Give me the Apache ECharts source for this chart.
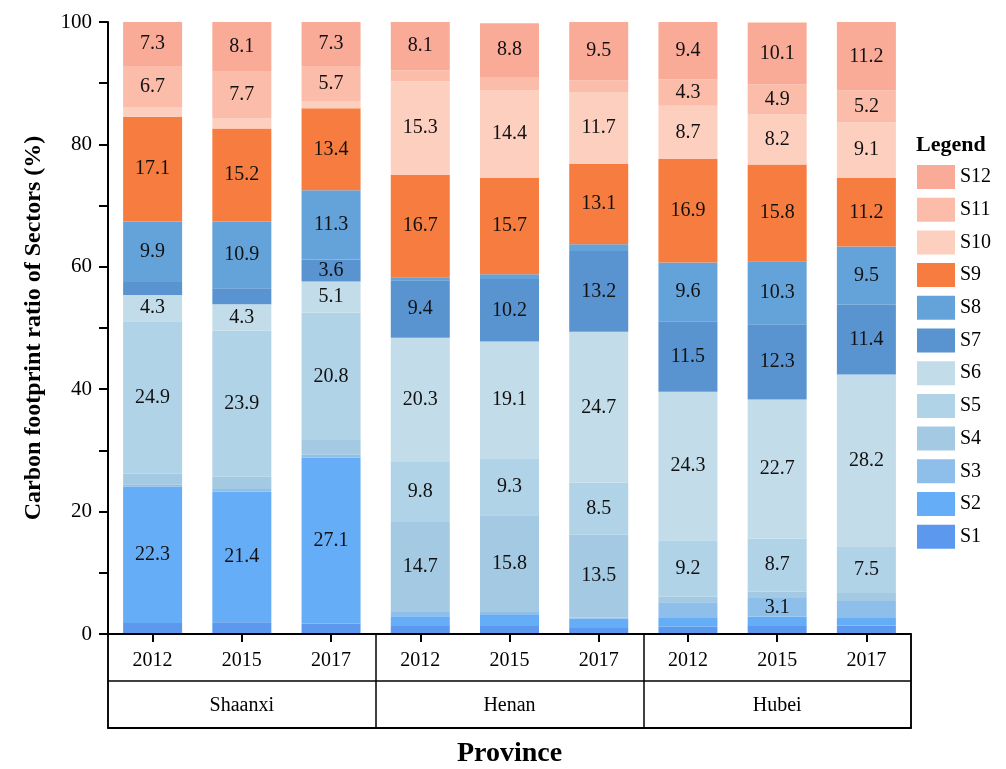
<!DOCTYPE html>
<html>
<head>
<meta charset="utf-8">
<script src="https://cdn.jsdelivr.net/npm/echarts@6/dist/echarts.min.js"></script>
<style>
  html, body { margin: 0; padding: 0; background: #fff; }
  #chart { width: 1006px; height: 769px; }
</style>
</head>
<body>
<div id="chart"></div>
<script>
const provinces = ['Shaanxi', 'Henan', 'Hubei'];
const years = ['2012', '2015', '2017'];
const categories = [];
provinces.forEach(p => years.forEach(y => categories.push(p + ' ' + y)));

const sectors = ['S1', 'S2', 'S3', 'S4', 'S5', 'S6', 'S7', 'S8', 'S9', 'S10', 'S11', 'S12'];
const sectorColors = ['#5b98ee', '#66adf7', '#8ebfea', '#a4c9e2', '#b0d3e8', '#c2dde9',
                      '#5994d0', '#64a3d9', '#f77c3f', '#fdcfbf', '#fbbcaa', '#f9ab98'];

// one array per sector, 9 bars: Shaanxi 12/15/17, Henan 12/15/17, Hubei 12/15/17
const S1  = [1.8, 1.9, 1.7, 1.3, 1.3, 1.0, 1.2, 1.3, 1.4];
const S2  = [22.3, 21.4, 27.1, 1.6, 1.8, 1.5, 1.4, 1.5, 1.2];
const S3  = [0.3, 0.4, 0.5, 0.7, 0.5, 0.2, 2.6, 3.1, 2.8];
const S4  = [1.8, 2.0, 2.4, 14.7, 15.8, 13.5, 0.9, 1.0, 1.3];
const S5  = [24.9, 23.9, 20.8, 9.8, 9.3, 8.5, 9.2, 8.7, 7.5];
const S6  = [4.3, 4.3, 5.1, 20.3, 19.1, 24.7, 24.3, 22.7, 28.2];
const S7  = [2.1, 2.6, 3.6, 9.4, 10.2, 13.2, 11.5, 12.3, 11.4];
const S8  = [9.9, 10.9, 11.3, 0.5, 0.8, 1.1, 9.6, 10.3, 9.5];
const S9  = [17.1, 15.2, 13.4, 16.7, 15.7, 13.1, 16.9, 15.8, 11.2];
const S10 = [1.6, 1.7, 1.2, 15.3, 14.4, 11.7, 8.7, 8.2, 9.1];
const S11 = [6.7, 7.7, 5.7, 1.8, 2.1, 2.0, 4.3, 4.9, 5.2];
const S12 = [7.3, 8.1, 7.3, 8.1, 8.8, 9.5, 9.4, 10.1, 11.2];
const sectorValues = [S1, S2, S3, S4, S5, S6, S7, S8, S9, S10, S11, S12];

const serif = '"Liberation Serif", "Times New Roman", serif';

const chart = echarts.init(document.getElementById('chart'));

const series = sectors.map((name, i) => ({
    name: name,
    type: 'bar',
    stack: 'total',
    barWidth: 59,
    xAxisIndex: 0,
    yAxisIndex: 0,
    itemStyle: { color: sectorColors[i] },
    label: {
        show: true,
        position: 'inside',
        fontFamily: serif,
        fontSize: 20,
        color: '#111',
        formatter: p => (p.value >= 3 ? p.value.toFixed(1) : '')
    },
    data: sectorValues[i]
}));

const option = {
    animation: false,
    backgroundColor: '#fff',
    title: {
        text: 'Legend',
        left: 911,
        top: 129,
        textStyle: { fontFamily: serif, fontSize: 22, fontWeight: 'bold', color: '#000' }
    },
    legend: {
        orient: 'vertical',
        left: 912,
        top: 160,
        itemWidth: 38,
        itemHeight: 24,
        itemGap: 8.7,
        icon: 'rect',
        data: sectors.slice().reverse(),
        textStyle: { fontFamily: serif, fontSize: 20, color: '#000' }
    },
    grid: [
        { left: 108, right: 95, top: 22, bottom: 135 },
        { left: 108, right: 95, top: 634, height: 94 }
    ],
    xAxis: [
        {
            type: 'category',
            gridIndex: 0,
            data: categories,
            position: 'bottom',
            z: 5,
            axisLine: { lineStyle: { color: '#000', width: 2 } },
            axisTick: { show: true, alignWithLabel: true, interval: 0, length: 8, lineStyle: { color: '#000', width: 2 } },
            axisLabel: {
                interval: 0,
                margin: 17,
                fontFamily: serif,
                fontSize: 20,
                color: '#000',
                formatter: v => v.split(' ')[1]
            }
        },
        {
            type: 'category',
            gridIndex: 1,
            data: provinces,
            position: 'bottom',
            name: 'Province',
            nameLocation: 'middle',
            nameGap: 12,
            nameTextStyle: { fontFamily: serif, fontSize: 28, fontWeight: 'bold', color: '#000' },
            axisLine: { lineStyle: { color: '#000', width: 2 } },
            axisTick: { show: false },
            splitLine: { show: true, interval: 0, lineStyle: { color: '#000', width: 1.5 } },
            axisLabel: {
                inside: true,
                margin: 12,
                fontFamily: serif,
                fontSize: 20,
                color: '#000'
            }
        }
    ],
    yAxis: [
        {
            type: 'value',
            gridIndex: 0,
            min: 0,
            max: 100,
            interval: 20,
            name: 'Carbon footprint ratio of Sectors (%)',
            nameLocation: 'middle',
            nameGap: 62,
            nameTextStyle: { fontFamily: serif, fontSize: 24, fontWeight: 'bold', color: '#000' },
            axisLine: { show: true, lineStyle: { color: '#000', width: 2 } },
            axisTick: { show: true, length: 9, lineStyle: { color: '#000', width: 2 } },
            minorTick: { show: true, splitNumber: 2, length: 9, lineStyle: { color: '#000', width: 2 } },
            splitLine: { show: false },
            axisLabel: { margin: 16, fontFamily: serif, fontSize: 21, color: '#000' }
        },
        {
            type: 'value',
            gridIndex: 1,
            min: 0,
            max: 2,
            interval: 1,
            axisLine: { show: true, lineStyle: { color: '#000', width: 1.5 } },
            axisTick: { show: false },
            axisLabel: { show: false },
            splitLine: { show: true, lineStyle: { color: '#000', width: 1.5 } }
        },
        {
            type: 'value',
            gridIndex: 1,
            position: 'right',
            min: 0,
            max: 2,
            interval: 1,
            axisLine: { show: true, lineStyle: { color: '#000', width: 1.5 } },
            axisTick: { show: false },
            axisLabel: { show: false },
            splitLine: { show: false }
        }
    ],
    series: series
};

chart.setOption(option);
</script>
</body>
</html>
